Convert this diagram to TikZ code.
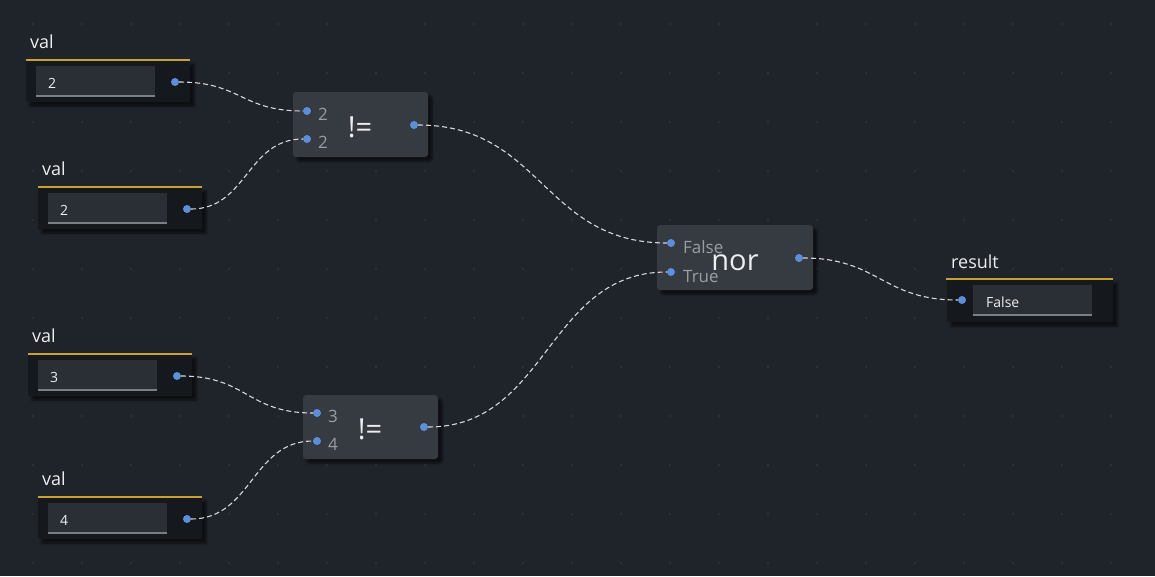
\documentclass[tikz,border=0pt]{standalone}
\usepackage{fontspec}
\setmainfont{Open Sans}
\usetikzlibrary{shadows.blur}
\definecolor{bg}{HTML}{1F232A}
\definecolor{valbody}{HTML}{15181D}
\definecolor{field}{HTML}{2A2E35}
\definecolor{fieldline}{HTML}{7A7F87}
\definecolor{gold}{HTML}{C9A133}
\definecolor{opbox}{HTML}{363A41}
\definecolor{port}{HTML}{5B8FDC}
\definecolor{wirecol}{HTML}{D8D8D8}
\definecolor{plabel}{HTML}{9A9EA4}
\definecolor{txt}{HTML}{EEEEEE}
\definecolor{griddot}{HTML}{30353D}

\begin{document}
\begin{tikzpicture}[x=1pt,y=-1pt]
    \tikzstyle{pin}=[circle,fill=port,minimum size=8pt,inner sep=0pt]
    \tikzstyle{wire}=[draw=wirecol,line width=1.1pt,dash pattern=on 5pt off 3pt]
    \tikzstyle{shade}=[blur shadow={shadow xshift=4pt,shadow yshift=-4pt,shadow blur steps=6,shadow opacity=60}]
    \tikzstyle{op}=[fill=opbox,rounded corners=3pt,shade]
    \tikzstyle{title}=[text=txt,anchor=base west,inner sep=0pt,font=\fontsize{18}{20}\selectfont]
    \tikzstyle{value}=[text=txt,anchor=base west,inner sep=0pt,font=\fontsize{14}{16}\selectfont]
    \tikzstyle{inlabel}=[text=plabel,anchor=base west,inner sep=0pt,font=\fontsize{17}{19}\selectfont]
    \tikzstyle{opname}=[text=txt,anchor=base,inner sep=0pt,font=\fontsize{29}{32}\selectfont]

\useasboundingbox[fill=bg] (0,0) rectangle (1155,576);
\foreach \i in {0,...,23}{
  \foreach \j in {0,...,11}{
    \fill[griddot] (33+49*\i,24+49*\j) circle (1.1pt);
  }
}

% input values
\foreach \n/\X/\Y/\v in {1/26/60/2, 2/38/187/2, 3/28/354/3, 4/38/497/4}{
  \fill[valbody,shade] (\X,\Y) rectangle (\X+164,\Y+42);
  \draw[gold,line width=2.5pt] (\X,\Y) -- (\X+164,\Y);
  \node[title] (val\n) at (\X+4,\Y-12) {val};
  \fill[field] (\X+10,\Y+6) rectangle (\X+129,\Y+36);
  \draw[fieldline,line width=1.2pt] (\X+10,\Y+36) -- (\X+129,\Y+36);
  \node[value] (num\n) at (\X+22,\Y+28) {\v};
  \node[pin] (out\n) at (\X+149,\Y+22) {};
}

% first !=
\fill[op] (293,92) rectangle (428,157);
\node[pin] (ne1a) at (307,111) {};
\node[pin] (ne1b) at (307,139) {};
\node[inlabel] at (318,120) {2};
\node[inlabel] at (318,148) {2};
\node[opname] (ne1) at (360,137) {!=};
\node[pin] (ne1o) at (414,125) {};

% second !=
\fill[op] (303,395) rectangle (438,459);
\node[pin] (ne2a) at (317,413) {};
\node[pin] (ne2b) at (317,441) {};
\node[inlabel] at (328,422) {3};
\node[inlabel] at (328,450) {4};
\node[opname] (ne2) at (370,439) {!=};
\node[pin] (ne2o) at (424,427) {};

% nor
\fill[op] (657,225) rectangle (813,290);
\node[pin] (nora) at (671,243) {};
\node[pin] (norb) at (671,272) {};
\node[inlabel] at (683,253) {False};
\node[inlabel] at (683,282) {True};
\node[opname] (nor) at (735,270) {nor};
\node[pin] (noro) at (799,258) {};

% result
\fill[valbody,shade] (947,279) rectangle (1113,322);
\draw[gold,line width=2.5pt] (946,279) -- (1113,279);
\node[title] (res) at (951,268) {result};
\fill[field] (973,285) rectangle (1092,315);
\draw[fieldline,line width=1.2pt] (973,315) -- (1092,315);
\node[value] (resval) at (986,307) {False};
\node[pin] (resin) at (962,300) {};

% wires
\draw[wire] (out1) .. controls +(66,0) and +(-66,0) .. (ne1a);
\draw[wire] (out2) .. controls +(60,0) and +(-60,0) .. (ne1b);
\draw[wire] (out3) .. controls +(70,0) and +(-70,0) .. (ne2a);
\draw[wire] (out4) .. controls +(65,0) and +(-65,0) .. (ne2b);
\draw[wire] (ne1o) .. controls +(128,0) and +(-128,0) .. (nora);
\draw[wire] (ne2o) .. controls +(124,0) and +(-124,0) .. (norb);
\draw[wire] (noro) .. controls +(80,0) and +(-80,0) .. (resin);
\end{tikzpicture}
\end{document}
